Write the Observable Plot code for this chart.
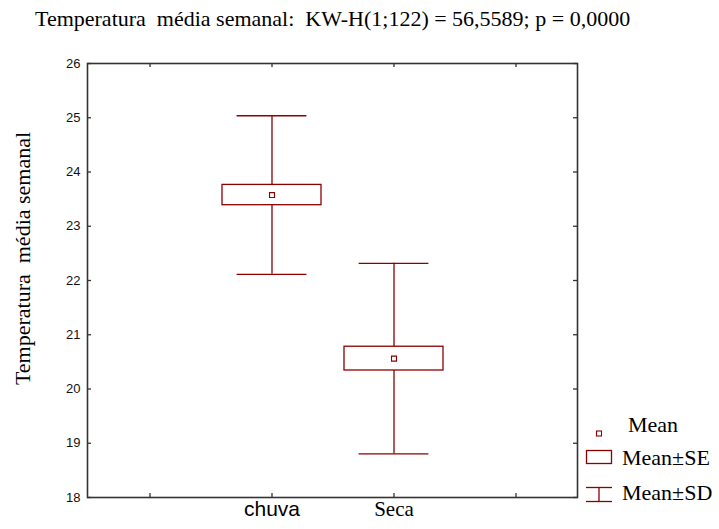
<!DOCTYPE html>
<html><head><meta charset="utf-8">
<script src="https://cdn.jsdelivr.net/npm/d3@7"></script>
<script src="https://cdn.jsdelivr.net/npm/@observablehq/plot@0.6"></script>
<style>
body{margin:0;background:#fff;}
#wrap{position:relative;width:719px;height:529px;overflow:hidden;background:#fff;}
#title{height:40px;box-sizing:border-box;padding:8px 0 0 35px;font-family:"Liberation Serif";font-size:22px;line-height:22px;white-space:pre;color:#000;}
#legend{position:absolute;left:0;top:0;}
</style></head><body>
<div id="wrap"><div id="title"></div><div id="chart"></div><svg id="legend" width="719" height="529"></svg></div>
<script>
const title = "Temperatura  média semanal:  KW-H(1;122) = 56,5589; p = 0,0000";
const yLabel = "Temperatura  média semanal";
const groups = ["chuva", "Seca"];
const means = [23.575, 20.56];
const se = [0.187, 0.219];
const sd = [1.462, 1.757];
const yTicks = [18, 19, 20, 21, 22, 23, 24, 25, 26];
const legendLabels = ["Mean", "Mean±SE", "Mean±SD"];

const RED = "#8b0000";
const AX = "#333";
const xSlots = ["", ...groups, " "];
const rows = groups.map((g, i) => ({
  g, mean: means[i],
  seLo: means[i] - se[i], seHi: means[i] + se[i],
  sdLo: means[i] - sd[i], sdHi: means[i] + sd[i]
}));

document.getElementById("title").textContent = title;

const chart = Plot.plot({
  width: 719, height: 489,
  marginTop: 23, marginBottom: 32, marginLeft: 87, marginRight: 142,
  style: {background: "white", overflow: "visible"},
  x: {type: "band", domain: xSlots, paddingInner: 0.19, paddingOuter: 0.095, axis: null},
  y: {domain: [18, 26]},
  marks: [
    Plot.tickY(yTicks, {y: d => d, insetRight: 486, stroke: AX, strokeWidth: 1.3}),
    Plot.tickY(yTicks, {y: d => d, insetLeft: 486, stroke: AX, strokeWidth: 1.3}),
    Plot.tickX(xSlots, {x: d => d, insetTop: 430, stroke: AX, strokeWidth: 1.3}),
    Plot.tickX(xSlots, {x: d => d, insetBottom: 430, stroke: AX, strokeWidth: 1.3}),
    Plot.axisY({ticks: yTicks, tickSize: 0, tickPadding: 7, fontSize: 13, fontFamily: "Liberation Sans", label: null, fill: "#111"}),
    Plot.ruleX(rows, {x: "g", y1: "sdLo", y2: "sdHi", stroke: RED, strokeWidth: 1.3}),
    Plot.tickY(rows, {x: "g", y: "sdHi", insetLeft: 14.6, insetRight: 14.6, stroke: RED, strokeWidth: 1.3}),
    Plot.tickY(rows, {x: "g", y: "sdLo", insetLeft: 14.6, insetRight: 14.6, stroke: RED, strokeWidth: 1.3}),
    Plot.barY(rows, {x: "g", y1: "seLo", y2: "seHi", fill: "white", stroke: RED, strokeWidth: 1.3}),
    Plot.dot(rows, {x: "g", y: "mean", symbol: "square", r: 2.8, stroke: RED, fill: "white", strokeWidth: 1.1}),
    Plot.frame({stroke: AX, strokeWidth: 1.6}),
    Plot.text([yLabel], {frameAnchor: "left", textAnchor: "middle", text: d => d, rotate: -90, dx: -65, dy: -22, fontSize: 22, fontFamily: "Liberation Serif", fill: "#000"}),
    Plot.text([groups[0]], {x: d => d, frameAnchor: "bottom", text: d => d, dy: 18, fontSize: 21, fontFamily: "Liberation Sans", fill: "#000"}),
    Plot.text([groups[1]], {x: d => d, frameAnchor: "bottom", text: d => d, dy: 18, fontSize: 21, fontFamily: "Liberation Serif", fill: "#000"})
  ]
});
document.getElementById("chart").appendChild(chart);

// legend
const lg = d3.select("#legend");
const F = {"font-family": "Liberation Serif", "font-size": 22, fill: "#000"};
function txt(x, y, s) { const t = lg.append("text").attr("x", x).attr("y", y).text(s); for (const k in F) t.attr(k, F[k]); }
lg.append("rect").attr("x", 596.5).attr("y", 431).attr("width", 5).attr("height", 5).attr("fill", "white").attr("stroke", RED).attr("stroke-width", 1.1);
txt(628, 432, legendLabels[0]);
lg.append("rect").attr("x", 586.5).attr("y", 450.5).attr("width", 25).attr("height", 13).attr("fill", "white").attr("stroke", RED).attr("stroke-width", 1.3);
txt(622, 465, legendLabels[1]);
lg.append("line").attr("x1", 586).attr("x2", 612).attr("y1", 487.5).attr("y2", 487.5).attr("stroke", RED).attr("stroke-width", 1.3);
lg.append("line").attr("x1", 599).attr("x2", 599).attr("y1", 487.5).attr("y2", 501.5).attr("stroke", RED).attr("stroke-width", 1.3);
lg.append("line").attr("x1", 586).attr("x2", 612).attr("y1", 501.5).attr("y2", 501.5).attr("stroke", RED).attr("stroke-width", 1.3);
txt(622, 500, legendLabels[2]);
</script>
</body></html>
